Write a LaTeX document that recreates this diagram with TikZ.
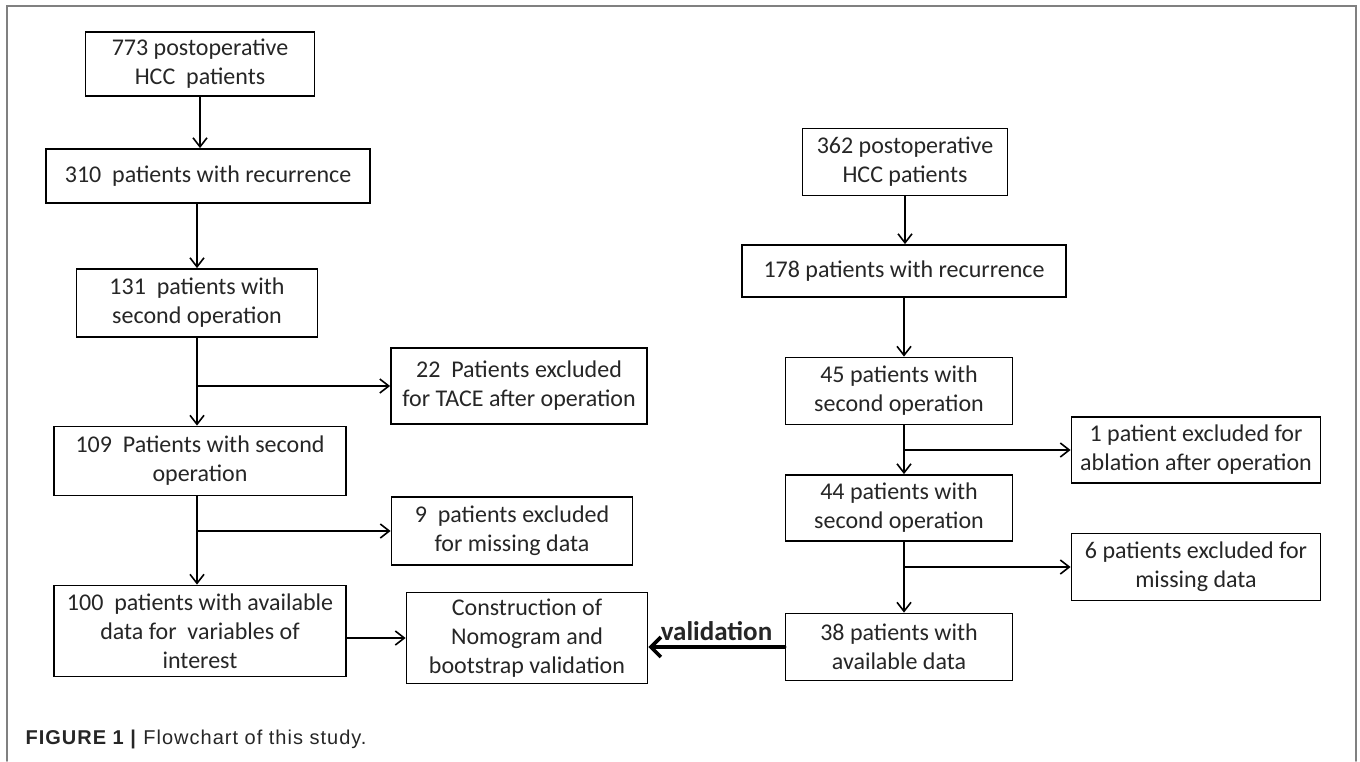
\documentclass[tikz,border=0pt]{standalone}
\usepackage{fontspec}
\setmainfont{Carlito}
\newfontfamily\capfont[LetterSpace=5]{Liberation Sans}
\usetikzlibrary{arrows.meta}

\begin{document}
\begin{tikzpicture}[
    x=1pt, y=-1pt,
    line cap=round,
    box/.style={draw=black, line width=1.8pt, align=center, inner sep=0pt,
      text=black!85, font=\fontsize{24}{29}\selectfont},
    flow/.style={draw=black, line width=1.6pt, -{Straight Barb[length=9pt,width=14pt]}},
    validflow/.style={draw=black, line width=3.6pt, -{Straight Barb[length=10pt,width=20pt]}},
    frameline/.style={draw=black!50, line width=1.5pt}
]
\fill[white] (0,0) rectangle (1360,761);
\useasboundingbox (0,0) rectangle (1360,761);
\draw[frameline] (7,761) -- (7,6) -- (1356,6) -- (1356,761);

% training cohort
\node[box, minimum width=229pt, minimum height=64pt] (pre773) at (200,64) {773 postoperative\\HCC~~patients};
\node[box, minimum width=324pt, minimum height=54pt] (rec310) at (208,176) {310~~patients with recurrence};
\node[box, minimum width=241pt, minimum height=68pt] (op131) at (197,303) {131~~patients with\\second operation};
\node[box, minimum width=256pt, minimum height=76pt] (ex22) at (519,386) {22~~Patients excluded\\for TACE after operation};
\node[box, minimum width=292pt, minimum height=69pt] (op109) at (200,461) {109~~Patients with second\\operation};
\node[box, minimum width=241pt, minimum height=68pt] (ex9) at (512,531) {9~~patients excluded\\for missing data};
\node[box, minimum width=292pt, minimum height=91pt] (data100) at (200,631) {100~~patients with available\\data for~~variables of\\interest};
\node[box, minimum width=241pt, minimum height=91pt] (nomo) at (527,638) {Construction of\\Nomogram and\\bootstrap validation};

% validation cohort
\node[box, minimum width=205pt, minimum height=67pt] (pre362) at (905,162) {362 postoperative\\HCC patients};
\node[box, minimum width=324pt, minimum height=52pt] (rec178) at (904,271) {178 patients with recurrence};
\node[box, minimum width=227pt, minimum height=67pt] (op45) at (899,391) {45 patients with\\second operation};
\node[box, minimum width=249pt, minimum height=66pt] (ex1) at (1196,450) {1 patient excluded for\\ablation after operation};
\node[box, minimum width=227pt, minimum height=66pt] (op44) at (899,508) {44 patients with\\second operation};
\node[box, minimum width=249pt, minimum height=67pt] (ex6) at (1196,567) {6 patients excluded for\\missing data};
\node[box, minimum width=227pt, minimum height=67pt] (avail38) at (899,647) {38 patients with\\available data};

\draw[flow] (pre773.south) -- (pre773.south |- rec310.north);
\draw[flow] (rec310.south -| op131) -- (op131.north);
\draw[flow] (op131.south) -- (op131.south |- op109.north);
\draw[flow] (op131.south |- ex22.west) -- (ex22.west);
\draw[flow] (op131.south |- op109.south) -- (op131.south |- data100.north);
\draw[flow] (op131.south |- ex9.west) -- (ex9.west);
\draw[flow] (data100.east |- nomo.west) -- (nomo.west);

\draw[flow] (pre362.south) -- (pre362.south |- rec178.north);
\draw[flow] (rec178.south) -- (rec178.south |- op45.north);
\draw[flow] (rec178.south |- op45.south) -- (rec178.south |- op44.north);
\draw[flow] (rec178.south |- ex1.west) -- (ex1.west);
\draw[flow] (rec178.south |- op44.south) -- (rec178.south |- avail38.north);
\draw[flow] (rec178.south |- ex6.west) -- (ex6.west);

\draw[validflow] (avail38.west) -- node[above=1pt, font=\bfseries\fontsize{27}{30}\selectfont, text=black!85] (vlabel) {validation} (nomo.east |- avail38.west);

\node[anchor=west, font=\capfont\fontsize{20}{22}\selectfont, text=black!85] (caption) at (22,739) {\textbf{FIGURE 1 |} Flowchart of this study.};
\end{tikzpicture}
\end{document}
